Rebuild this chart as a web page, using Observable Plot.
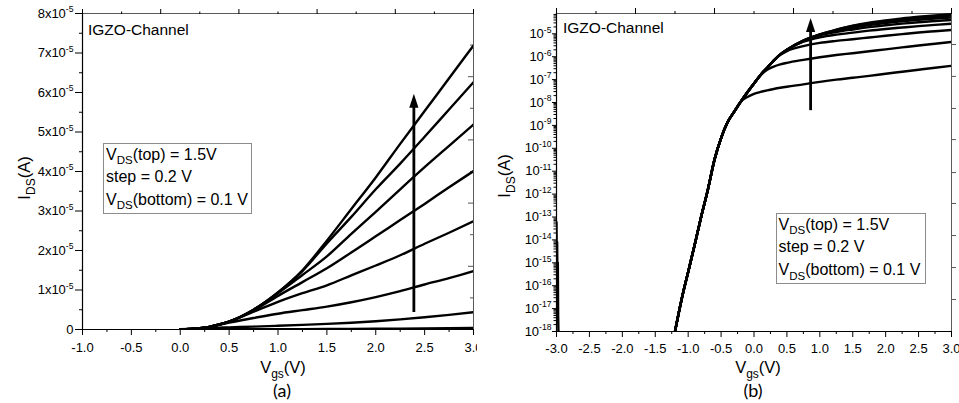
<!DOCTYPE html>
<html>
<head>
<meta charset="utf-8">
<script src="https://cdn.jsdelivr.net/npm/d3@7"></script>
<script src="https://cdn.jsdelivr.net/npm/@observablehq/plot@0.6"></script>
<style>
  html, body { margin: 0; padding: 0; background: #fff; }
  #wrap { position: relative; width: 959px; height: 403px; overflow: hidden; background: #fff; }
  .panel { position: absolute; top: 0; height: 403px; overflow: hidden; }
  #panelA { left: 0; width: 477px; }
  #panelB { left: 480px; width: 479px; }
  #overlay { position: absolute; left: 0; top: 0; }
</style>
</head>
<body>
<div id="wrap">
  <div id="panelA" class="panel"></div>
  <div id="panelB" class="panel"></div>
  <svg id="overlay" width="959" height="403" xmlns="http://www.w3.org/2000/svg"
       font-family="'Liberation Sans', Arial, sans-serif" fill="#000">
    <!-- panel (a) annotations -->
    <text x="88" y="34.5" font-size="15.5">IGZO-Channel</text>
    <rect x="103.5" y="143.5" width="148" height="70" fill="#fff" stroke="#8c8c8c" stroke-width="1"></rect>
    <text x="106" y="159.5" font-size="16">V<tspan dy="4.5" font-size="11.5">DS</tspan><tspan dy="-4.5">(top) = 1.5V</tspan></text>
    <text x="106" y="182" font-size="16">step = 0.2 V</text>
    <text x="106" y="204.5" font-size="16">V<tspan dy="4.5" font-size="11.5">DS</tspan><tspan dy="-4.5">(bottom) = 0.1 V</tspan></text>
    <text transform="translate(30,178) rotate(-90)" text-anchor="middle" font-size="16.5">I<tspan dy="4.5" font-size="12">DS</tspan><tspan dy="-4.5">(A)</tspan></text>
    <text x="283" y="373" text-anchor="middle" font-size="16.5">V<tspan dy="4.5" font-size="12">gs</tspan><tspan dy="-4.5">(V)</tspan></text>
    <text x="282" y="397" text-anchor="middle" font-size="18" font-family="Lato, 'Open Sans', sans-serif">(a)</text>
    <!-- panel (b) annotations -->
    <text x="563" y="33" font-size="15.5">IGZO-Channel</text>
    <rect x="776.5" y="213.5" width="149" height="70" fill="#fff" stroke="#8c8c8c" stroke-width="1"></rect>
    <text x="778.5" y="229.5" font-size="16">V<tspan dy="4.5" font-size="11.5">DS</tspan><tspan dy="-4.5">(top) = 1.5V</tspan></text>
    <text x="778.5" y="252" font-size="16">step = 0.2 V</text>
    <text x="778.5" y="275" font-size="16">V<tspan dy="4.5" font-size="11.5">DS</tspan><tspan dy="-4.5">(bottom) = 0.1 V</tspan></text>
    <text transform="translate(510,176) rotate(-90)" text-anchor="middle" font-size="16.5">I<tspan dy="4.5" font-size="12">DS</tspan><tspan dy="-4.5">(A)</tspan></text>
    <text x="758" y="373" text-anchor="middle" font-size="16.5">V<tspan dy="4.5" font-size="12">gs</tspan><tspan dy="-4.5">(V)</tspan></text>
    <text x="753" y="397" text-anchor="middle" font-size="18" font-family="Lato, 'Open Sans', sans-serif">(b)</text>
  </svg>
</div>
<script>
// ---------------- data ----------------
const vdsLevels = [0.1, 0.3, 0.5, 0.7, 0.9, 1.1, 1.3, 1.5];

// shared sub-threshold branch (all VDS overlap)
const subVgs = [-1.2, -1.1, -1.0, -0.9, -0.8, -0.7, -0.6, -0.5, -0.4, -0.3];
const subIds = [1.0e-18, 2.5e-17, 4.0e-16, 6.3e-15, 1.1e-13, 1.6e-12, 3.2e-11, 2.8e-10, 1.4e-9, 4.0e-9];

// above-threshold part, one array per VDS
const upVgs = [-0.2, -0.1, 0.0, 0.1, 0.2, 0.3, 0.4, 0.5, 0.75, 1.0, 1.25, 1.5, 1.75, 2.0, 2.25, 2.5, 2.75, 3.0];
const ids01 = [1.1e-8, 1.75e-8, 2.4e-8, 2.9e-8, 3.4e-8, 3.9e-8, 4.4e-8, 4.9e-8, 6.2e-8, 8.0e-8, 1.0e-7, 1.2e-7, 1.45e-7, 1.8e-7, 2.2e-7, 2.7e-7, 3.3e-7, 4.0e-7];
const ids03 = [1.1e-8, 2.8e-8, 6.8e-8, 1.55e-7, 2.7e-7, 3.7e-7, 4.6e-7, 5.4e-7, 7.3e-7, 9.5e-7, 1.18e-6, 1.42e-6, 1.72e-6, 2.1e-6, 2.55e-6, 3.1e-6, 3.7e-6, 4.4e-6];
const ids05 = [1.1e-8, 2.8e-8, 6.8e-8, 1.6e-7, 3.3e-7, 6.8e-7, 1.2e-6, 1.75e-6, 2.9e-6, 4.0e-6, 4.9e-6, 5.8e-6, 6.9e-6, 8.2e-6, 9.7e-6, 1.14e-5, 1.3e-5, 1.48e-5];
const ids07 = [1.1e-8, 2.8e-8, 6.8e-8, 1.6e-7, 3.3e-7, 6.8e-7, 1.26e-6, 2.0e-6, 4.5e-6, 7.0e-6, 9.2e-6, 1.12e-5, 1.37e-5, 1.62e-5, 1.88e-5, 2.17e-5, 2.45e-5, 2.74e-5];
const ids09 = [1.1e-8, 2.8e-8, 6.8e-8, 1.6e-7, 3.3e-7, 6.8e-7, 1.26e-6, 2.0e-6, 4.8e-6, 8.5e-6, 1.2e-5, 1.55e-5, 1.95e-5, 2.36e-5, 2.77e-5, 3.18e-5, 3.6e-5, 4.01e-5];
const ids11 = [1.1e-8, 2.8e-8, 6.8e-8, 1.6e-7, 3.3e-7, 6.8e-7, 1.26e-6, 2.0e-6, 5.0e-6, 9.2e-6, 1.38e-5, 1.85e-5, 2.42e-5, 2.98e-5, 3.55e-5, 4.11e-5, 4.65e-5, 5.19e-5];
const ids13 = [1.1e-8, 2.8e-8, 6.8e-8, 1.6e-7, 3.3e-7, 6.8e-7, 1.26e-6, 2.0e-6, 5.0e-6, 9.4e-6, 1.48e-5, 2.18e-5, 2.85e-5, 3.55e-5, 4.2e-5, 4.88e-5, 5.57e-5, 6.26e-5];
const ids15 = [1.1e-8, 2.8e-8, 6.8e-8, 1.6e-7, 3.3e-7, 6.8e-7, 1.26e-6, 2.0e-6, 5.0e-6, 9.4e-6, 1.5e-5, 2.25e-5, 3.05e-5, 3.85e-5, 4.7e-5, 5.53e-5, 6.36e-5, 7.19e-5];
const idsByVds = [ids01, ids03, ids05, ids07, ids09, ids11, ids13, ids15];

// noisy off-state points at the start of the sweep (panel b)
const offVgs = [-3.0, -2.995, -2.99, -2.985, -2.98, -2.975, -2.97];
const offIds = [6e-14, 2e-16, 8e-15, 3e-17, 1e-15, 5e-18, 8e-19];

// arrows (VDS increasing)
const arrowA = {vgs: 2.39, from: 0.43e-5, to: 5.97e-5};
const arrowB = {vgs: 0.86, from: 4.4e-9, to: 4.9e-5};

// axes
const xDomainA = [-1, 3];
const yDomainA = [0, 8e-5];
const xTicksA = [-1.0, -0.5, 0.0, 0.5, 1.0, 1.5, 2.0, 2.5, 3.0];
const xMinorA = [-0.75, -0.25, 0.25, 0.75, 1.25, 1.75, 2.25, 2.75];
const topLongA = [-1.0, -0.2, 0.6, 1.4, 2.2, 3.0];
const topShortA = [-0.6, 0.2, 1.0, 1.8, 2.6];
const yTicksA = [0, 1e-5, 2e-5, 3e-5, 4e-5, 5e-5, 6e-5, 7e-5, 8e-5];
const yMinorA = [0.5e-5, 1.5e-5, 2.5e-5, 3.5e-5, 4.5e-5, 5.5e-5, 6.5e-5, 7.5e-5];
const rightLongA = [1.6e-5, 3.2e-5, 4.8e-5, 6.4e-5];
const rightShortA = [0.8e-5, 2.4e-5, 4.0e-5, 5.6e-5, 7.2e-5];

const xDomainB = [-3, 3];
const yDomainB = [1e-18, 7.7e-5];
const xTicksB = [-3.0, -2.5, -2.0, -1.5, -1.0, -0.5, 0.0, 0.5, 1.0, 1.5, 2.0, 2.5, 3.0];
const xMinorB = [-2.75, -2.25, -1.75, -1.25, -0.75, -0.25, 0.25, 0.75, 1.25, 1.75, 2.25, 2.75];
const topLongB = [-3.0, -1.8, -0.6, 0.6, 1.8, 3.0];
const topShortB = [-2.4, -1.2, 0.0, 1.2, 2.4];
const yTicksB = [1e-18, 1e-17, 1e-16, 1e-15, 1e-14, 1e-13, 1e-12, 1e-11, 1e-10, 1e-9, 1e-8, 1e-7, 1e-6, 1e-5];
const yMinorMultipliers = [2, 3, 4, 5, 6, 7, 8, 9];
const rightTicksB = [2.5e-17, 6.2e-16, 1.55e-14, 3.9e-13, 8.7e-12, 2.4e-10, 5.5e-9, 1.38e-7, 3.4e-6];

// ---------------- tables ----------------
const rows = vdsLevels.flatMap((vd, k) => [
  ...subVgs.map((v, i) => ({vd, vgs: v, ids: subIds[i]})),
  ...upVgs.map((v, i) => ({vd, vgs: v, ids: idsByVds[k][i]}))
]);
const rowsA = rows.filter(d => d.vgs >= 0);
const offRows = offVgs.map((v, i) => ({vgs: v, ids: offIds[i]}));
const yMinorB = yTicksB.flatMap(t => yMinorMultipliers.map(m => m * t)).filter(v => v < yDomainB[1]);

// arrow head symbol: tip at the data point, pointing up
const headSymbol = {
  draw(context) {
    context.moveTo(0, 0);
    context.lineTo(4.6, 14);
    context.lineTo(-4.6, 14);
    context.closePath();
  }
};

const font = "'Liberation Sans', Arial, sans-serif";
const style = {fontFamily: font, fontSize: "13px", background: "transparent", color: "#000", overflow: "visible"};
const blank = () => "";

const fmtA = d => d === 0 ? "0" : `${Math.round(d / 1e-5)}x10^-5`;
const fmtB = d => `10^${Math.round(Math.log10(d))}`;
const fmtX = d => d.toFixed(1);

function supify(svg) {
  const ns = "http://www.w3.org/2000/svg";
  svg.querySelectorAll("text").forEach(t => {
    const s = t.textContent;
    const m = s.match(/^(.*)\^(.*)$/);
    if (!m) return;
    t.textContent = "";
    const a = document.createElementNS(ns, "tspan");
    a.textContent = m[1];
    const b = document.createElementNS(ns, "tspan");
    b.textContent = m[2];
    b.setAttribute("font-size", "0.66em");
    b.setAttribute("dy", "-0.62em");
    t.append(a, b);
  });
}

// ---------------- panel (a): linear ----------------
const plotA = Plot.plot({
  width: 477, height: 360,
  marginLeft: 82, marginRight: 4, marginTop: 13, marginBottom: 31,
  style,
  x: {domain: xDomainA, label: null},
  y: {domain: yDomainA, label: null},
  marks: [
    Plot.frame({stroke: "#5a5a5a"}),
    Plot.axisX({ticks: xMinorA, tickSize: 3, tickFormat: blank, label: null}),
    Plot.axisX({ticks: xTicksA, tickSize: 6, tickPadding: 7, tickFormat: fmtX, label: null}),
    Plot.axisX({anchor: "top", ticks: topLongA, tickSize: 5, tickFormat: blank, label: null}),
    Plot.axisX({anchor: "top", ticks: topShortA, tickSize: 2.5, tickFormat: blank, label: null}),
    Plot.axisY({ticks: yMinorA, tickSize: 3, tickFormat: blank, label: null}),
    Plot.axisY({ticks: yTicksA, tickSize: 7, tickPadding: 2, tickFormat: fmtA, label: null}),
    Plot.ruleY(rightLongA, {y: d => d, x1: () => xDomainA[1], x2: () => xDomainA[1], insetLeft: -5, stroke: "#555"}),
    Plot.ruleY(rightShortA, {y: d => d, x1: () => xDomainA[1], x2: () => xDomainA[1], insetLeft: -3, stroke: "#555"}),
    Plot.line(rowsA, {x: "vgs", y: "ids", z: "vd", stroke: "#000", strokeWidth: 2.4, curve: "monotone-x", clip: true}),
    Plot.ruleX([xDomainA[0]], {stroke: "#000", strokeWidth: 1.2}),
    Plot.ruleY([yDomainA[0]], {stroke: "#000", strokeWidth: 1.2}),
    Plot.ruleX([arrowA], {x: "vgs", y1: "to", y2: "from", insetTop: 10, stroke: "#000", strokeWidth: 2.8}),
    Plot.dot([arrowA], {x: "vgs", y: "to", symbol: headSymbol, fill: "#000", stroke: null})
  ]
});
supify(plotA);
document.getElementById("panelA").append(plotA);

// ---------------- panel (b): log ----------------
const plotB = Plot.plot({
  width: 479, height: 360,
  marginLeft: 76, marginRight: 8, marginTop: 13, marginBottom: 29,
  style,
  x: {domain: xDomainB, label: null},
  y: {type: "log", domain: yDomainB, label: null},
  marks: [
    Plot.frame({stroke: "#5a5a5a"}),
    Plot.axisX({ticks: xMinorB, tickSize: 3, tickFormat: blank, label: null}),
    Plot.axisX({ticks: xTicksB, tickSize: 6, tickPadding: 6, tickFormat: fmtX, label: null}),
    Plot.axisX({anchor: "top", ticks: topLongB, tickSize: 6, tickFormat: blank, label: null}),
    Plot.axisX({anchor: "top", ticks: topShortB, tickSize: 3, tickFormat: blank, label: null}),
    Plot.axisY({ticks: yMinorB, tickSize: 2.5, tickFormat: blank, label: null}),
    Plot.axisY({ticks: yTicksB, tickSize: 4, tickPadding: 1, tickFormat: fmtB, label: null}),
    Plot.axisY({anchor: "right", ticks: rightTicksB, tickSize: 4, tickFormat: blank, label: null, stroke: "#555"}),
    Plot.line(rows, {x: "vgs", y: "ids", z: "vd", stroke: "#000", strokeWidth: 2.4, curve: "monotone-x", clip: true}),
    Plot.line(offRows, {x: "vgs", y: "ids", stroke: "#000", strokeWidth: 2.4, clip: true}),
    Plot.ruleX([xDomainB[0]], {stroke: "#000", strokeWidth: 1.2}),
    Plot.ruleY([yDomainB[0]], {stroke: "#000", strokeWidth: 1.2}),
    Plot.ruleX([arrowB], {x: "vgs", y1: "to", y2: "from", insetTop: 10, stroke: "#000", strokeWidth: 2.8}),
    Plot.dot([arrowB], {x: "vgs", y: "to", symbol: headSymbol, fill: "#000", stroke: null})
  ]
});
supify(plotB);
document.getElementById("panelB").append(plotB);
</script>
</body>
</html>
